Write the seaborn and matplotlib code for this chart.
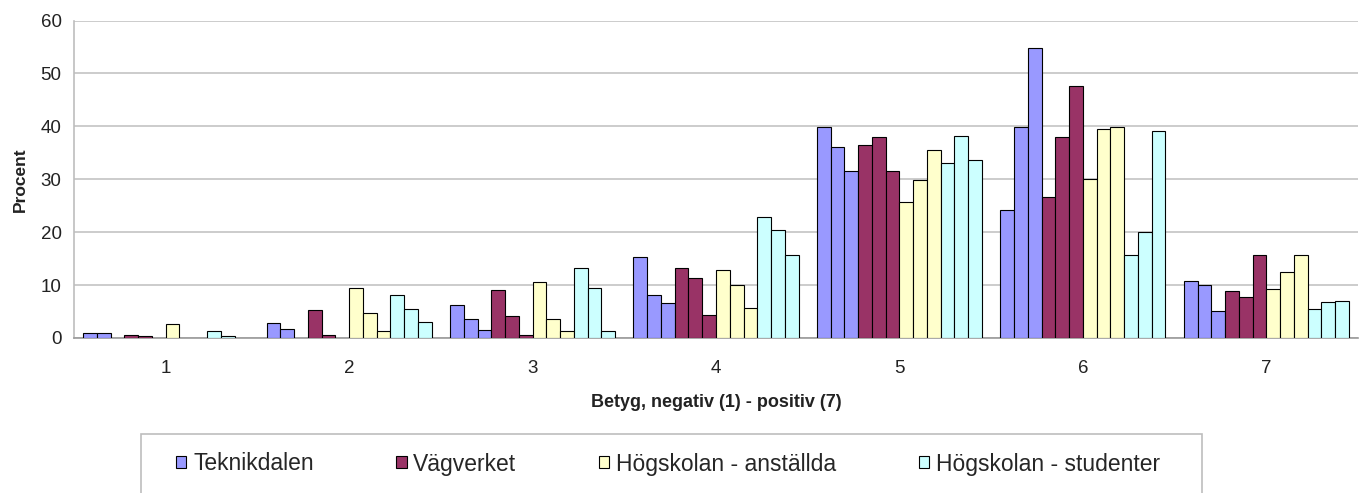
import pandas as pd
import matplotlib.pyplot as plt
import seaborn as sns
from matplotlib.patches import Patch, Rectangle
from matplotlib.ticker import MultipleLocator

# Betyg 1-7, three bars per group and grade
betyg = ["1", "2", "3", "4", "5", "6", "7"]
grupper = ["Teknikdalen", "Vägverket", "Högskolan - anställda", "Högskolan - studenter"]

teknikdalen = [[0.9, 0.9, 0.0], [2.8, 1.7, 0.0], [6.3, 3.6, 1.6], [15.3, 8.1, 6.6],
               [39.9, 36.1, 31.5], [24.1, 39.9, 54.8], [10.8, 10.1, 5.1]]
vagverket = [[0.6, 0.4, 0.0], [5.2, 0.6, 0.0], [9.1, 4.1, 0.5], [13.2, 11.3, 4.4],
             [36.4, 38.0, 31.5], [26.6, 38.0, 47.7], [8.8, 7.7, 15.6]]
anstallda = [[2.6, 0.0, 0.0], [9.4, 4.7, 1.4], [10.5, 3.6, 1.4], [12.8, 10.0, 5.7],
             [25.7, 29.8, 35.6], [30.1, 39.5, 39.9], [9.3, 12.5, 15.6]]
studenter = [[1.3, 0.4, 0.0], [8.1, 5.5, 3.1], [13.2, 9.4, 1.4], [22.9, 20.5, 15.6],
             [33.1, 38.2, 33.7], [15.6, 20.0, 39.2], [5.5, 6.8, 6.9]]

farger = ["#9999FF", "#993366", "#FFFFCC", "#CCFFFF"]

# long table, one hue level per (group, bar)
rows = []
for g, serie in zip(grupper, [teknikdalen, vagverket, anstallda, studenter]):
    for b, trio in zip(betyg, serie):
        for k, v in enumerate(trio):
            rows.append({"betyg": b, "stapel": f"{g} {k}", "procent": v})
df = pd.DataFrame(rows)
hue_order = [f"{g} {k}" for g in grupper for k in range(3)]
palette = {f"{g} {k}": c for g, c in zip(grupper, farger) for k in range(3)}
df = df[df["procent"] > 0]

sns.set_style("white")
plt.rcParams["font.family"] = ["Liberation Sans", "DejaVu Sans"]

fig = plt.figure(figsize=(13.65, 4.93), dpi=100)
W, H = 1365, 493
ax = fig.add_axes([74 / W, 1 - 338 / H, (1358 - 74) / W, (338 - 20.5) / H])

sns.barplot(data=df, x="betyg", y="procent", hue="stapel", order=betyg,
            hue_order=hue_order, palette=palette, width=0.9, gap=0,
            edgecolor="black", linewidth=0.8, errorbar=None, legend=False,
            saturation=1, ax=ax, zorder=3)

ax.set_xlim(-0.5, 6.5)
ax.set_ylim(0, 60)
ax.yaxis.set_major_locator(MultipleLocator(10))
ax.grid(axis="y", color="#C8C8C8", linewidth=1.3, zorder=0)
ax.set_axisbelow(True)
for s in ["top", "right"]:
    ax.spines[s].set_visible(False)
ax.spines["left"].set_color("#BDBDBD")
ax.spines["bottom"].set_color("#9A9A9A")
ax.spines["left"].set_linewidth(1.2)
ax.spines["bottom"].set_linewidth(1.2)

ax.tick_params(axis="y", length=4, color="#BDBDBD", labelsize=13.5, pad=5, labelcolor="#222222")
ax.tick_params(axis="x", which="major", length=0, labelsize=13.5, pad=16, labelcolor="#222222")
ax.set_xticks([i - 0.5 for i in range(8)], minor=True)
ax.tick_params(axis="x", which="minor", length=4, color="#9A9A9A")

ax.set_xlabel("Betyg, negativ (1) - positiv (7)", fontsize=13, fontweight="bold", labelpad=12, color="#222222")
ax.set_ylabel("Procent", fontsize=12.5, fontweight="bold", labelpad=9, color="#222222")

# legend box like the original
fig.patches.append(Rectangle((141 / W, -0.05), (1202 - 141) / W, 0.05 + (493 - 434) / H,
                             transform=fig.transFigure, facecolor="white",
                             edgecolor="#BDBDBD", linewidth=1.2))
handles = [Patch(facecolor=c, edgecolor="black", linewidth=0.8) for c in farger]
fig.legend(handles, grupper, loc="center", bbox_to_anchor=(668 / W, 1 - 464 / H),
           ncol=4, frameon=False, fontsize=16.5, handlelength=0.45, handleheight=0.45,
           handletextpad=0.3, columnspacing=3.6)

plt.savefig("out.png", dpi=100)
